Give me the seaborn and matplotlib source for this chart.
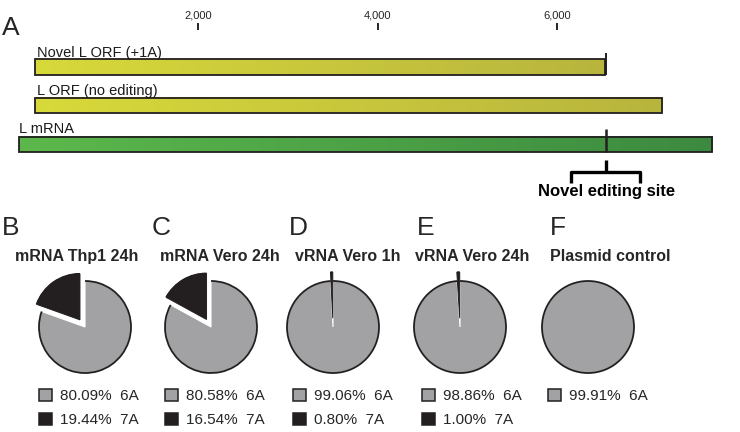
import numpy as np
import matplotlib
matplotlib.use('Agg')
import matplotlib.pyplot as plt
from matplotlib.patches import Arc
import seaborn as sns

# data
scale_ticks = [2000, 4000, 6000]
scale_labels = ['2,000', '4,000', '6,000']
bar_names = ['Novel L ORF (+1A)', 'L ORF (no editing)', 'L mRNA']
bar_start = [180, 180, 0]
bar_end = [6535, 7170, 7727]
edit_site = 6545

pie_letters = ['B', 'C', 'D', 'E', 'F']
pie_titles = ['mRNA Thp1 24h', 'mRNA Vero 24h', 'vRNA Vero 1h', 'vRNA Vero 24h', 'Plasmid control']
pct_6A = [80.09, 80.58, 99.06, 98.86, 99.91]
pct_7A = [19.44, 16.54, 0.80, 1.00, None]

sns.set_theme(style='white')
plt.rcParams['font.family'] = ['Liberation Sans', 'DejaVu Sans']

W, H = 740, 432
fig = plt.figure(figsize=(W / 100, H / 100), dpi=100)

def fx(x):
    return x / W

def fy(y):
    return 1 - y / H

dark = '#231f20'
gray = '#a2a2a4'

# ---- panel A: genome diagram (x in nt, y in pixel rows) ----
ax = fig.add_axes([0, fy(200), 1, 170 / H])
px_per_nt = 0.08975
x0 = 18.5
ax.set_xlim(-x0 / px_per_nt, (W - x0) / px_per_nt)

rows = [67, 105.5, 144.5]
bar_h = 15.5
cmaps = [sns.blend_palette(['#d8d93a', '#b8b53e'], as_cmap=True),
         sns.blend_palette(['#d8d93a', '#b8b53e'], as_cmap=True),
         sns.blend_palette(['#5cb84c', '#3c8a40'], as_cmap=True)]
label_x = [206, 206, 6]
label_y = [57, 95, 133]
grad = np.linspace(0, 1, 256).reshape(1, -1)
for i, name in enumerate(bar_names):
    ax.imshow(grad, cmap=cmaps[i], aspect='auto', interpolation='bilinear',
              extent=[bar_start[i], bar_end[i], rows[i] + bar_h / 2, rows[i] - bar_h / 2], zorder=1)
    ax.barh(rows[i], bar_end[i] - bar_start[i], left=bar_start[i], height=bar_h,
            fill=False, edgecolor=dark, linewidth=1.3, zorder=2)
    ax.text(label_x[i], label_y[i], name, fontsize=10.5, va='baseline', ha='left', color='#1a1a1a')

# editing site marks
ax.vlines(edit_site, 53, rows[0] + bar_h / 2, color=dark, lw=1.4, zorder=3)
ax.vlines(edit_site, 129, rows[2] + bar_h / 2, color=dark, lw=1.8, zorder=3)

# brace
half = 34.5 / px_per_nt
bl, br = edit_site - half, edit_site + half
ax.plot([edit_site, edit_site], [160, 172], color='black', lw=2.4, solid_capstyle='butt')
ax.plot([bl, bl, br, br], [183, 172, 172, 183], color='black', lw=2.4,
        solid_joinstyle='round', solid_capstyle='butt')
ax.text(edit_site + 0.5 / px_per_nt, 196, 'Novel editing site', fontsize=12, fontweight='bold',
        ha='center', va='baseline', color='black')

ax.set_ylim(200, 30)
ax.xaxis.tick_top()
ax.set_xticks(scale_ticks)
ax.set_xticklabels(scale_labels)
ax.tick_params(axis='x', top=True, bottom=False, direction='out', length=5, width=1.2,
               color='black', labelsize=8, pad=1.5)
ax.set_yticks([])
for s in ax.spines.values():
    s.set_visible(False)
ax.patch.set_alpha(0)

fig.text(fx(2), fy(35), 'A', fontsize=19, va='baseline', ha='left')

# ---- panels B-F: pies ----
centers = [85, 211, 333, 460, 588]
cy = 327
R = 46
letter_x = [2, 152, 289, 417, 550]
title_x = [15, 160, 295, 415, 550]
legend_x = [39, 165, 293, 422, 548]

for i in range(5):
    cx = centers[i]
    box = R * 2.6
    pax = fig.add_axes([fx(cx - box / 2), fy(cy + box / 2), box / W, box / H])
    if pct_7A[i] is not None:
        vals = [pct_7A[i], pct_6A[i]]
        cols = [dark, gray]
        expl = [0.19, 0]
        labs = ['%.2f%%  7A' % pct_7A[i], '%.2f%%  6A' % pct_6A[i]]
    else:
        vals = [pct_6A[i]]
        cols = [gray]
        expl = [0]
        labs = ['%.2f%%  6A' % pct_6A[i]]
    wedges, _ = pax.pie(vals, colors=cols, explode=expl, startangle=90, counterclock=True,
                        radius=1, wedgeprops=dict(edgecolor='white', linewidth=0.8))
    # the 7A slice sits on top with a dark edge, so thin slivers stay visible
    if len(wedges) > 1:
        wedges[0].set_edgecolor(dark)
        wedges[0].set_linewidth(0.7)
        wedges[0].set_zorder(4)
    # dark outline along the outer arcs
    for w in wedges:
        pax.add_patch(Arc(w.center, 2 * w.r, 2 * w.r, theta1=w.theta1, theta2=w.theta2,
                          color=dark, lw=1.3, zorder=5))
    pax.set_xlim(-1.3, 1.3)
    pax.set_ylim(-1.3, 1.3)
    pax.axis('off')

    # legend, 6A first
    order = list(range(len(wedges)))[::-1]
    leg = fig.legend([wedges[k] for k in order], [labs[k] for k in order],
                     loc='upper left', bbox_to_anchor=(fx(legend_x[i]), fy(389)),
                     bbox_transform=fig.transFigure, frameon=False, fontsize=11,
                     handlelength=0.85, handleheight=0.85, handletextpad=0.55,
                     labelspacing=0.6, borderpad=0, borderaxespad=0)
    for h in leg.legend_handles:
        h.set_edgecolor(dark)
        h.set_linewidth(1.1)

    fig.text(fx(letter_x[i]), fy(235), pie_letters[i], fontsize=19, va='baseline', ha='left')
    fig.text(fx(title_x[i]), fy(261), pie_titles[i], fontsize=11.5, fontweight='bold',
             va='baseline', ha='left')

fig.savefig('out.png', dpi=100, facecolor='white')
